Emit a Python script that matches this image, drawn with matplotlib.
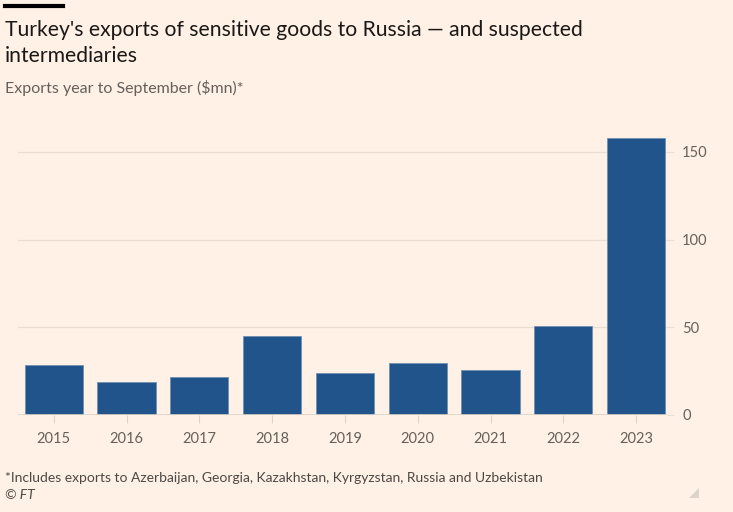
import matplotlib
matplotlib.use("Agg")
import matplotlib.pyplot as plt
from matplotlib.patches import Polygon

years = ["2015", "2016", "2017", "2018", "2019", "2020", "2021", "2022", "2023"]
exports = [28.5, 18.8, 21.7, 45.0, 24.0, 29.6, 25.7, 50.7, 158.0]
y_ticks = [0, 50, 100, 150]

bg = "#fff1e5"
bar_color = "#21548a"
grid_color = "#e9dcd1"
text_grey = "#66605c"

plt.rcParams["font.family"] = ["Lato", "DejaVu Sans"]

fig = plt.figure(figsize=(7.33, 5.12), dpi=100, facecolor=bg)
ax = fig.add_axes([0.0246, 0.1895, 0.885, 0.548], facecolor=bg)

x = range(len(years))
ax.bar(x, exports, width=0.8, color=bar_color, edgecolor="#6f8fb3", linewidth=0.6, zorder=3)

ax.set_xlim(-0.49, 8.42)
ax.set_ylim(0, 160)
ax.set_xticks(list(x))
ax.set_xticklabels(years)
ax.set_yticks(y_ticks)
ax.yaxis.tick_right()
ax.grid(axis="y", color=grid_color, linewidth=0.9, zorder=0)
for s in ax.spines.values():
    s.set_visible(False)
ax.axhline(0, color="#e0d3c8", linewidth=1.2, zorder=4)
ax.tick_params(axis="x", length=6, color="#e0d3c8", labelsize=10.5, labelcolor=text_grey, pad=6)
ax.tick_params(axis="y", length=5, color=grid_color, labelsize=10.5, labelcolor=text_grey, pad=6)

# header
fig.add_artist(plt.Line2D([5 / 733, 63 / 733], [1 - 5.5 / 512, 1 - 5.5 / 512], color="black", linewidth=3))
fig.text(5 / 733, 1 - 36 / 512, "Turkey's exports of sensitive goods to Russia \u2014 and suspected",
         fontsize=15.2, color="#1a1817", va="baseline")
fig.text(5 / 733, 1 - 62 / 512, "intermediaries", fontsize=15.2, color="#1a1817", va="baseline")
fig.text(5 / 733, 1 - 93 / 512, "Exports year to September ($mn)*", fontsize=11.5, color=text_grey, va="baseline")

# footer
fig.text(5 / 733, 1 - 478 / 512, "*Includes exports to Azerbaijan, Georgia, Kazakhstan, Kyrgyzstan, Russia and Uzbekistan",
         fontsize=10, color="#4d4845", va="center")
fig.text(5 / 733, 1 - 495 / 512, "\u00a9 FT", fontsize=10, color="#4d4845", va="center", style="italic")

# little corner marker bottom right
tri = [(699 / 733, 1 - 488 / 512), (699 / 733, 1 - 498 / 512), (689 / 733, 1 - 498 / 512)]
fig.add_artist(Polygon(tri, closed=True, transform=fig.transFigure, facecolor="#ddd3cb", edgecolor="none"))

fig.savefig("out.png", dpi=100, facecolor=bg)
